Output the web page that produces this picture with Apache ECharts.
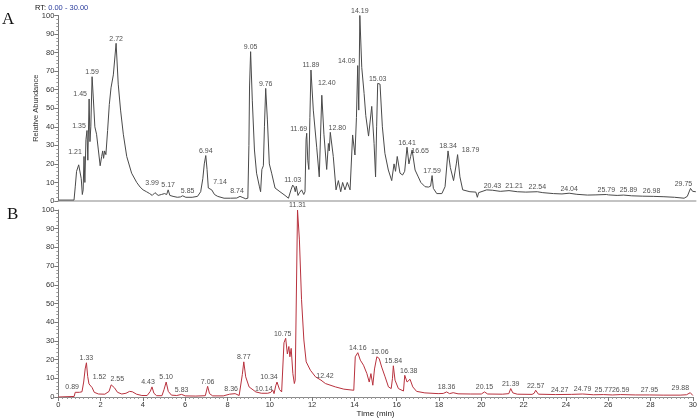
<!DOCTYPE html>
<html><head><meta charset="utf-8">
<script src="https://cdn.jsdelivr.net/npm/echarts@6/dist/echarts.min.js"></script>
<style>html,body{margin:0;padding:0;background:#fff}#c{width:700px;height:419px}</style>
</head><body><div id="c"></div>
<script>
// ---- data (retention time in min, relative abundance in %) ----
const traceA = [[0,0.5],[0.74,0.5],[0.8,8],[0.86,16],[0.96,19.5],[1.02,20.5],[1.08,12],[1.13,3.5],[1.17,6],[1.21,24],[1.25,10],[1.30,33],[1.35,38],[1.39,22],[1.45,55],[1.49,32],[1.53,40],[1.59,67],[1.65,55],[1.72,40],[1.80,36],[1.88,28],[1.97,19],[2.04,24],[2.09,27],[2.13,23],[2.18,27],[2.24,25],[2.32,38],[2.40,52],[2.48,61],[2.59,68],[2.72,85],[2.82,63],[2.93,49],[3.06,36],[3.22,24],[3.45,15],[3.69,10],[3.85,7.5],[3.99,6],[4.15,5],[4.3,4],[4.42,3],[4.55,4.5],[4.7,3],[4.85,3.5],[5.0,4],[5.1,3.5],[5.17,6],[5.25,3],[5.4,2.5],[5.6,2],[5.75,2.2],[5.85,2.8],[6.0,2],[6.3,2],[6.55,2.5],[6.7,5],[6.8,12],[6.87,20],[6.94,24.5],[7.0,17],[7.06,7],[7.14,8],[7.22,6],[7.35,3.5],[7.5,2.5],[7.8,1.5],[8.1,1.5],[8.4,1.6],[8.55,2.5],[8.65,2],[8.74,2.7],[8.82,1.2],[8.92,1.5],[8.97,30],[9.0,62],[9.05,80.5],[9.13,54],[9.23,27.5],[9.33,15],[9.46,8],[9.52,5],[9.58,17],[9.65,19],[9.70,40],[9.76,60.7],[9.84,43.7],[9.93,20],[10.04,15],[10.2,7],[10.43,5],[10.67,3],[10.83,1.5],[10.95,6],[11.03,8.6],[11.1,7.5],[11.15,5],[11.2,8],[11.28,3],[11.35,4.5],[11.45,6],[11.55,3.5],[11.61,5],[11.66,33],[11.69,36.5],[11.74,22],[11.79,17],[11.84,45],[11.89,70.6],[12.0,49],[12.16,29],[12.28,13],[12.34,35],[12.40,57],[12.5,36],[12.63,17],[12.71,31],[12.75,27],[12.80,37],[12.94,24],[13.07,6],[13.18,11],[13.29,5],[13.38,10],[13.49,6],[13.6,10],[13.73,6],[13.85,35.6],[13.96,24.8],[14.03,45],[14.09,73],[14.14,49],[14.19,100],[14.28,72],[14.39,58],[14.47,46],[14.52,47],[14.6,35],[14.75,51],[14.86,31],[14.93,13],[14.98,40],[15.03,63.4],[15.14,63],[15.25,40],[15.37,25.7],[15.53,16.7],[15.69,11],[15.8,20],[15.87,16],[15.95,24],[16.08,15],[16.2,14],[16.3,16],[16.41,29],[16.50,20],[16.58,24],[16.65,27.5],[16.79,16.7],[16.94,13],[17.06,10],[17.26,7.7],[17.42,7.5],[17.52,8],[17.59,13.7],[17.65,6.8],[17.81,4],[18.05,4],[18.2,7.7],[18.34,27],[18.45,18],[18.6,11],[18.67,10.5],[18.73,20],[18.79,25],[18.90,13],[19.03,6],[19.37,5],[19.65,4.8],[19.72,2],[19.78,4.5],[20.16,6],[20.43,5.8],[20.8,5.2],[21.21,5.6],[21.6,5],[22.0,4.8],[22.54,5],[22.8,4.5],[23.3,4],[23.7,3.8],[24.04,4.2],[24.4,3.6],[24.9,3.2],[25.3,3.3],[25.79,3.5],[25.89,3.3],[26.3,3],[26.6,3.2],[26.98,2.8],[27.5,2.6],[28.0,2.5],[28.5,2.3],[29.0,2],[29.45,1.5],[29.6,2.5],[29.75,6.8],[29.85,5.2],[29.92,5.8],[30,5]];

const traceB = [[0,0],[0.75,0.3],[0.8,2.5],[0.89,2.7],[1.0,2.5],[1.12,2.8],[1.2,8],[1.27,15],[1.33,18.3],[1.39,11],[1.45,7],[1.52,8],[1.6,5],[1.7,2.5],[1.9,1.6],[2.2,1.5],[2.4,3],[2.5,6.5],[2.55,7.2],[2.65,5],[2.8,2.5],[3.0,1.6],[3.2,2],[3.37,3],[3.5,2.8],[3.7,1.5],[3.95,0.8],[4.2,0.8],[4.35,3],[4.43,5.4],[4.52,2],[4.65,0.7],[4.9,0.7],[5.0,4],[5.10,8],[5.2,3],[5.35,1],[5.6,0.8],[5.83,1.4],[6.0,0.6],[6.5,0.5],[6.95,0.7],[7.06,5.7],[7.15,1.8],[7.3,0.6],[7.8,0.6],[8.1,1.5],[8.36,1.8],[8.55,0.8],[8.7,12],[8.77,18.8],[8.86,10.8],[9.02,5.4],[9.34,2.7],[9.6,2],[9.9,2],[10.05,2.5],[10.14,3.7],[10.2,1.8],[10.28,6],[10.34,8],[10.46,4],[10.56,2.7],[10.67,29],[10.75,31.4],[10.83,23],[10.9,27],[10.95,21.5],[11.01,26],[11.09,12.5],[11.16,7.2],[11.2,9],[11.31,100],[11.4,84],[11.5,52],[11.61,30.5],[11.72,18.8],[11.92,14.3],[12.16,10.8],[12.42,9],[12.63,7.2],[13.1,5.4],[13.5,4.2],[13.97,3.6],[14.04,21.5],[14.16,23.7],[14.28,19.7],[14.43,17],[14.59,12.5],[14.70,8],[14.78,12.5],[14.87,6.3],[14.95,15],[15.06,21.5],[15.17,20.6],[15.29,16],[15.45,10.8],[15.61,5.4],[15.74,4.5],[15.8,10],[15.84,16.7],[15.92,9],[16.08,4.5],[16.32,3.2],[16.38,11.6],[16.49,8],[16.63,9.5],[16.76,5.4],[16.94,3],[17.33,2.2],[17.96,1.8],[18.2,1.9],[18.36,2.7],[18.5,1.8],[18.67,2.3],[18.9,1.7],[19.5,1.6],[20.0,1.6],[20.15,2.7],[20.3,1.6],[21.0,1.5],[21.3,1.8],[21.39,4.5],[21.49,2.2],[21.7,1.5],[22.4,1.4],[22.5,2],[22.57,3.6],[22.7,1.5],[23.5,1.3],[24.27,1.4],[24.79,1.6],[25.3,1.2],[25.77,1.3],[26.2,1.1],[26.59,1.3],[27.3,1.1],[27.95,1.1],[28.6,1],[29.4,1],[29.7,1.2],[29.88,2.3],[30,0.8]];

const peakRtA = [1.21,1.35,1.45,1.59,2.72,3.99,5.17,5.85,6.94,7.14,8.74,9.05,9.76,11.03,11.69,11.89,12.40,12.80,14.09,14.19,15.03,16.41,16.65,17.59,18.34,18.79,20.43,21.21,22.54,24.04,25.79,25.89,26.98,29.75];
const peakHtA = [24,38,55,67,85,6,6,2.8,24.5,8,2.7,80.5,60.7,8.6,36.5,70.6,57,37,73,100,63.4,29,27.5,13.7,27,25,5.8,5.6,5,4.2,3.5,3.3,2.8,6.8];
const peakRtB = [0.89,1.33,1.52,2.55,4.43,5.10,5.83,7.06,8.36,8.77,10.14,10.34,10.75,11.31,12.42,14.16,15.06,15.84,16.38,18.36,20.15,21.39,22.57,24.27,24.79,25.77,26.59,27.95,29.88];
const peakHtB = [2.7,18.3,8,7.2,5.4,8,1.4,5.7,1.8,18.8,3.7,8,31.4,100,9,23.7,21.5,16.7,11.6,2.7,2.7,4.5,3.6,1.4,1.6,1.3,1.3,1.1,2.3];

const xRange = [0, 30, 2];      // min, max, tick step
const yRange = [0, 100, 10];

// ---- styling: label nudges (px) to avoid overlaps, as in the original ----
const nudgeA = {'1.21':[-9,0],'1.35':[-8,0],'1.45':[-9,0],'3.99':[9,-2],'5.85':[5,0],'7.14':[10,0],'8.74':[-7,0],
  '11.69':[-8,0],'12.40':[5,-8],'12.80':[7,0],'14.09':[-11,0],'16.65':[8,6],'18.79':[13,0],'21.21':[5,0],
  '25.89':[20,0],'26.98':[20,0],'29.75':[-7,0]};
const nudgeB = {'0.89':[-5,0],'1.52':[9,0],'2.55':[5,0],'4.43':[-4,0],'8.36':[-4,0],'10.14':[-9,3],'10.34':[-8,0],
  '10.75':[-3,0],'12.42':[4,0],'15.06':[3,0],'16.38':[4,0],'24.27':[-12,0],'29.88':[-10,0]};

const FONT = 'Liberation Sans, Arial, sans-serif';
function peakData(rts, hts, nudge){
  return rts.map((t,i)=>{
    const k = t.toFixed(2);
    const o = nudge[k] || [0,0];
    return {value:[t, hts[i]], label:{offset:o}};
  });
}
function xAx(grid, bottom){
  return {gridIndex:grid, type:'value', min:xRange[0], max:xRange[1], interval:xRange[2],
    axisLine:{show:true, onZero:false, lineStyle:{color: bottom?'#8a8a8a':'#b0b0b0', width: bottom?1:1.5}},
    axisTick:{show:bottom, length:4, lineStyle:{color:'#777'}},
    minorTick:{show:bottom, splitNumber:10, length:2, lineStyle:{color:'#999'}},
    axisLabel:{show:bottom, fontSize:7.5, color:'#333', margin:4, fontFamily:FONT},
    splitLine:{show:false},
    name: bottom ? 'Time (min)' : '', nameLocation:'middle', nameGap:13,
    nameTextStyle:{fontSize:8, color:'#222', fontFamily:FONT}};
}
function yAx(grid, named){
  return {gridIndex:grid, type:'value', min:yRange[0], max:yRange[1], interval:yRange[2],
    axisLine:{show:true, lineStyle:{color:'#777'}},
    axisTick:{show:true, length:4, lineStyle:{color:'#777'}},
    minorTick:{show:true, splitNumber:5, length:2, lineStyle:{color:'#999'}},
    axisLabel:{fontSize:7.5, color:'#333', margin:4, fontFamily:FONT},
    splitLine:{show:false},
    name: named ? 'Relative Abundance' : '', nameLocation:'middle', nameGap:18, nameMoveOverlap:false,
    nameTextStyle:{fontSize:7.5, color:'#333', fontFamily:FONT}};
}
function labelSeries(idx, data){
  return {type:'scatter', xAxisIndex:idx, yAxisIndex:idx, data:data, symbolSize:0, silent:true,
    label:{show:true, position:'top', distance:1, fontSize:7, color:'#222', fontFamily:FONT,
      formatter:p=>p.value[0].toFixed(2)}, z:5};
}

const chart = echarts.init(document.getElementById('c'), null, {renderer:'canvas'});
chart.setOption({
  animation:false,
  backgroundColor:'#fff',
  title:{left:30, top:-1, text:'{a|RT: }{b|0.00 - 30.00}',
    textStyle:{fontWeight:'normal', rich:{a:{fontSize:7.5,color:'#111',fontWeight:'normal',fontFamily:FONT}, b:{fontSize:7.5,color:'#2a3c9c',fontWeight:'normal',fontFamily:FONT}}}},
  graphic:[
    {type:'text', left:2, top:11, style:{text:'A', font:'17px "Liberation Serif", "Times New Roman", serif', fill:'#111'}},
    {type:'text', left:7, top:206, style:{text:'B', font:'17px "Liberation Serif", "Times New Roman", serif', fill:'#111'}}
  ],
  grid:[{left:58.3, right:4.2, top:15.5, height:185.5}, {left:58.3, right:4.2, top:210, height:187}],
  xAxis:[xAx(0,false), xAx(1,true)],
  yAxis:[yAx(0,true), yAx(1,false)],
  series:[
    {type:'line', xAxisIndex:0, yAxisIndex:0, data:traceA, symbol:'none', lineStyle:{color:'#4a4a4a', width:1}},
    {type:'line', xAxisIndex:1, yAxisIndex:1, data:traceB, symbol:'none', lineStyle:{color:'#b8323e', width:1}},
    labelSeries(0, peakData(peakRtA, peakHtA, nudgeA)),
    labelSeries(1, peakData(peakRtB, peakHtB, nudgeB))
  ]
});
</script></body></html>
